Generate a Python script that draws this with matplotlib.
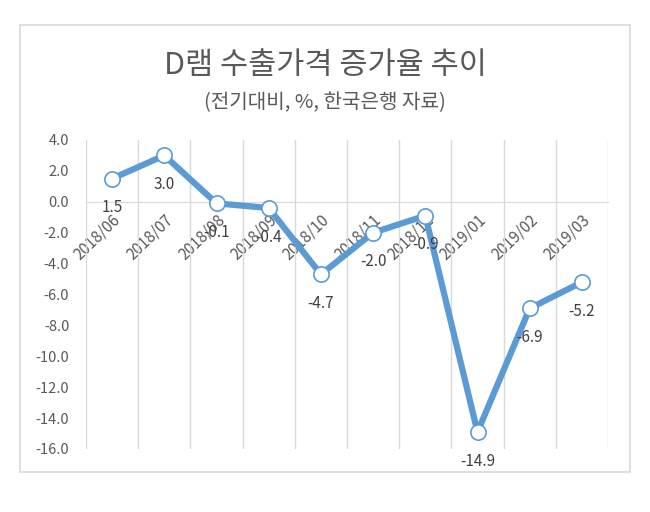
import matplotlib.pyplot as plt
import numpy as np
from matplotlib.patches import Rectangle

plt.rcParams['font.family'] = ['Noto Sans CJK KR', 'DejaVu Sans']

months = ["2018/06", "2018/07", "2018/08", "2018/09", "2018/10",
          "2018/11", "2018/12", "2019/01", "2019/02", "2019/03"]
rate = [1.5, 3.0, -0.1, -0.4, -4.7, -2.0, -0.9, -14.9, -6.9, -5.2]

blue = "#5B9BD5"
grid_c = "#D9D9D9"
txt_c = "#595959"

fig = plt.figure(figsize=(6.5, 5.12), dpi=100)
fig.patches.append(Rectangle((20 / 650, 1 - 472 / 512), 610 / 650, 447 / 512,
                             transform=fig.transFigure, fill=False,
                             edgecolor=grid_c, linewidth=1.2))

ax = fig.add_axes([86 / 650, 1 - 449 / 512, 522 / 650, 309 / 512])
# axis crosses at 0 (set before tick labels, it resets ticks)
for s in ['top', 'right', 'left']:
    ax.spines[s].set_visible(False)
ax.spines['bottom'].set_position(('data', 0))
ax.spines['bottom'].set_color(grid_c)

x = np.arange(len(months))
ax.plot(x, rate, color=blue, linewidth=4.5, marker='o', markersize=11,
        markerfacecolor='white', markeredgecolor=blue, markeredgewidth=1.2,
        zorder=3)

for xi, v in zip(x, rate):
    ax.annotate(f"{v:.1f}", (xi, v), xytext=(0, -21), textcoords='offset points',
                ha='center', va='center', fontsize=11, color="#404040", zorder=4)

ax.set_xlim(-0.5, len(months) - 0.5)
ax.set_ylim(-16, 4)
ax.set_yticks(np.arange(-16, 5, 2))
ax.set_yticklabels([f"{t:.1f}" for t in np.arange(-16, 5, 2)])

ax.set_xticks(x)
ax.set_xticks(np.arange(-0.5, len(months), 1), minor=True)
ax.set_xticklabels(months, rotation=44, ha='right', va='top',
                   rotation_mode='anchor')
ax.grid(True, which='minor', axis='x', color=grid_c, linewidth=1)
ax.tick_params(axis='x', which='both', length=0, pad=7, labelsize=11,
               labelcolor=txt_c)
ax.tick_params(axis='y', length=0, pad=12, labelsize=10.5, labelcolor=txt_c)

fig.text(0.5, 1 - 65 / 512, "D램 수출가격 증가율 추이", ha='center', va='center',
         fontsize=22, color=txt_c, fontweight='light')
fig.text(0.5, 1 - 103 / 512, "(전기대비, %, 한국은행 자료)", ha='center',
         va='center', fontsize=14.5, color=txt_c, fontweight='light')

fig.savefig("out.png", dpi=100)
